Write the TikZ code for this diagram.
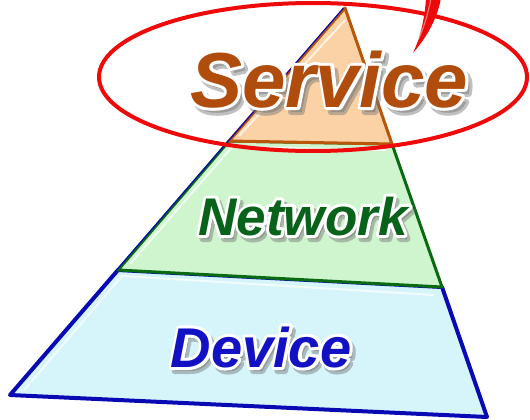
\documentclass[tikz,border=0pt]{standalone}
\usepackage{fontspec}
\setmainfont{Liberation Sans}
\usetikzlibrary{calc}

\definecolor{servicefill}{HTML}{FAD2A6}
\definecolor{serviceedge}{HTML}{B8560A}
\definecolor{servicetext}{HTML}{B04C0C}
\definecolor{networkfill}{HTML}{CFF5CF}
\definecolor{networkedge}{HTML}{0A6A12}
\definecolor{networktext}{HTML}{08621A}
\definecolor{devicefill}{HTML}{D5F5FB}
\definecolor{deviceedge}{HTML}{0A0AB4}
\definecolor{devicetext}{HTML}{1212C4}
\definecolor{calloutred}{HTML}{EE0A0A}

% glyph outlines: white stroke only (halo) and thick filled+stroked (shadow)
\newcommand\halotext[1]{\special{pdf:literal direct q 1 Tr 6 w 1 j 1 1 1 RG}#1\special{pdf:literal direct Q}}
\newcommand\shadowtext[1]{\special{pdf:literal direct q 2 Tr 6 w 1 j}#1\special{pdf:literal direct Q}}

\begin{document}
\begin{tikzpicture}[x=1pt,y=-1pt,line join=round,
  tier/.style={inner sep=0pt, anchor=base},
  bigfont/.style={font=\fontsize{78}{78}\bfseries\itshape\selectfont},
  midfont/.style={font=\fontsize{53}{53}\bfseries\itshape\selectfont},
  lowfont/.style={font=\fontsize{56}{56}\bfseries\itshape\selectfont},
  tiershadow/.style={tier, text=black!55, opacity=0.45},
  tierhalo/.style={tier, text=white}]
\useasboundingbox (0,0) rectangle (530,420);

% corners of the pyramid and of its tiers
\coordinate (apex) at (345,8);
\coordinate (bl) at (10,395);
\coordinate (br) at (487,417);
\coordinate (sl) at (229,141);
\coordinate (sr) at (392,144);
\coordinate (nl) at (118,270);
\coordinate (nr) at (442,287);

% device tier
\filldraw[fill=devicefill, draw=deviceedge, line width=4pt] (nl) -- (nr) -- (br) -- (bl) -- cycle;
\draw[white, opacity=0.7, line width=2pt] ($(bl)+(14,-5)$) -- ($(nl)+(4,6)$) -- ($(nr)+(-8,8)$);

% network tier
\filldraw[fill=networkfill, draw=networkedge, line width=3pt] (sl) -- (sr) -- (nr) -- (nl) -- cycle;
\draw[white, opacity=0.7, line width=2pt] ($(nl)+(12,-6)$) -- ($(sl)+(3,6)$) -- ($(sr)+(-6,6)$);

% service tier
\filldraw[fill=servicefill, draw=serviceedge, line width=3pt] (apex) -- (sr) -- (sl) -- cycle;
\draw[white, opacity=0.7, line width=2pt] ($(sl)+(10,-5)$) -- ($(apex)+(0,12)$);

% thin outer line along the left flank
\draw[deviceedge, line width=1.2pt] ($(apex)+(-1.5,0)$) -- ($(nl)+(-1.5,0)$);

% tier labels: soft shadow, white halo, coloured letters
\node[tiershadow, bigfont] (serviceshadow) at (333,112) {\shadowtext{Service}};
\node[tierhalo, bigfont] (servicehalo) at (329,107) {\halotext{Service}};
\node[tier, bigfont, text=servicetext] (service) at (329,107) {Service};

\node[tiershadow, midfont] (networkshadow) at (306,239) {\shadowtext{Network}};
\node[tierhalo, midfont] (networkhalo) at (303,235) {\halotext{Network}};
\node[tier, midfont, text=networktext] (network) at (303,235) {Network};

\node[tiershadow, lowfont] (deviceshadow) at (264,371) {\shadowtext{Device}};
\node[tierhalo, lowfont] (devicehalo) at (261,367) {\halotext{Device}};
\node[tier, lowfont, text=devicetext] (device) at (261,367) {Device};

% highlight ring and callout tail
\draw[calloutred, line width=4pt] (313,77) ellipse [x radius=214, y radius=74];
\fill[calloutred] (413,53) .. controls (421,36) and (425,16) .. (426,-2) -- (441,-2) .. controls (437,20) and (426,38) .. cycle;
\draw[white, opacity=0.45, line width=1.2pt] (417,42) .. controls (424,28) and (428,14) .. (431,-2);
\end{tikzpicture}
\end{document}
